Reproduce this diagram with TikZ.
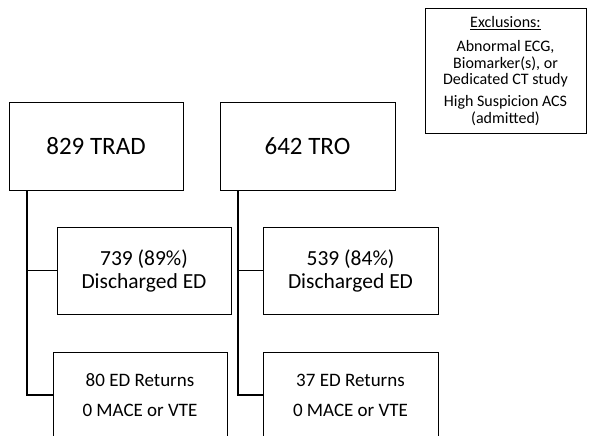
\documentclass[tikz,border=0pt]{standalone}
\usepackage{fontspec}
\setmainfont{Carlito}
\begin{document}
\begin{tikzpicture}[x=1pt,y=-1pt,
  box/.style={draw=black,line width=1pt,inner sep=0pt,outer sep=0pt,align=center,fill=white},
  conn/.style={draw=black,line width=1.2pt},
  big/.style={font=\fontsize{25}{30}\selectfont},
  mid/.style={font=\fontsize{21.5}{23}\selectfont},
  small/.style={font=\fontsize{19}{30}\selectfont},
  excl/.style={font=\fontsize{16}{16.8}\selectfont}]
\useasboundingbox (0,0) rectangle (595,436);
\clip (0,0) rectangle (595,436);
\fill[white] (0,0) rectangle (595,436);

\node[box,excl,minimum width=161pt,minimum height=124pt] (excl) at (505.5,71)
  {\underline{Exclusions:}\\[7pt]Abnormal ECG,\\Biomarker(s), or\\Dedicated CT study\\[5pt]High Suspicion ACS\\(admitted)};

\node[box,big,minimum width=174pt,minimum height=87pt] (trad) at (96,146.5) {829 TRAD};
\node[box,big,minimum width=175pt,minimum height=87pt] (tro) at (307.5,146.5) {642 TRO};

\node[box,mid,minimum width=174pt,minimum height=87pt] (dis1) at (144,270.5) {739 (89\%)\\Discharged ED};
\node[box,mid,minimum width=175pt,minimum height=87pt] (dis2) at (350.5,270.5) {539 (84\%)\\Discharged ED};

\node[box,small,minimum width=174pt,minimum height=86pt] (ret1) at (140,395) {80 ED Returns\\0 MACE or VTE};
\node[box,small,minimum width=175pt,minimum height=86pt] (ret2) at (350.5,395) {37 ED Returns\\0 MACE or VTE};

\coordinate (t1) at ([xshift=18pt]trad.south west);
\coordinate (t2) at ([xshift=18pt]tro.south west);
\draw[conn] (t1) |- (ret1.west);
\draw[conn] (t1) |- (dis1.west);
\draw[conn] (t2) |- (ret2.west);
\draw[conn] (t2) |- (dis2.west);
\end{tikzpicture}
\end{document}
